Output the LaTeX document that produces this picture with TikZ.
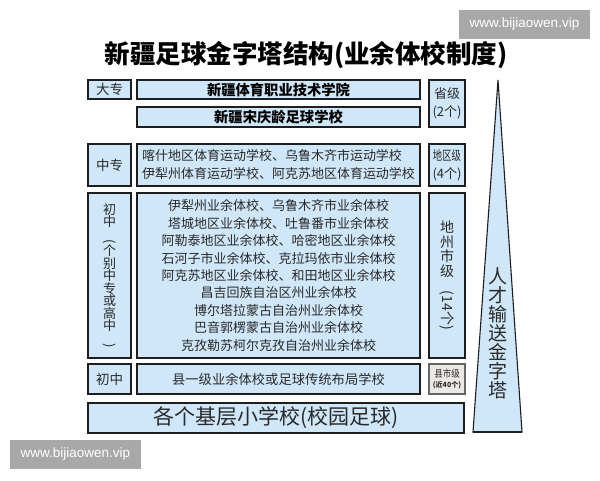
\documentclass[tikz,border=0pt]{standalone}
\usepackage{fontspec}
\usepackage{graphicx}
\setmainfont{Noto Sans CJK SC}
\newfontfamily\wmfont{Liberation Sans}
\definecolor{boxblue}{HTML}{CFE7F8}
\definecolor{boxline}{HTML}{1E1E1E}
\definecolor{txt}{HTML}{2A2A2A}
\definecolor{wmgray}{HTML}{A8A8A8}
\definecolor{xsfill}{HTML}{ECE9E4}
\begin{document}
\begin{tikzpicture}[x=1pt,y=-1pt,
  box/.style={draw=boxline, line width=1.6pt, fill=boxblue, inner sep=0pt,
    anchor=center, text=txt, align=center},
  wm/.style={fill=wmgray, text=white, inner sep=0pt, minimum width=131pt,
    minimum height=29pt, font=\wmfont\fontsize{13.5}{14}\selectfont}]
\useasboundingbox (0,0) rectangle (600,480);
\fill[white] (0,0) rectangle (600,480);

% title
\node[font=\fontsize{25.5}{28}\selectfont\bfseries, text=black] (title) at (306,55)
  {新疆足球金字塔结构(业余体校制度)};

% watermarks
\node[wm] (wm1) at (524.5,24.5) {www.bijiaowen.vip};
\node[wm] (wm2) at (75.5,454.5) {www.bijiaowen.vip};

% row 1: 大专
\node[box, minimum width=43pt, minimum height=19pt,
  font=\fontsize{13.5}{14}\selectfont] (dz) at (109.5,89.5) {大专};
\node[box, minimum width=283pt, minimum height=19pt, text=black,
  font=\fontsize{14.3}{15}\selectfont\bfseries] (xj1) at (278.5,89.5) {新疆体育职业技术学院};
\node[box, minimum width=283pt, minimum height=20pt, text=black,
  font=\fontsize{14.3}{15}\selectfont\bfseries] (xj2) at (278.5,117) {新疆宋庆龄足球学校};
\node[box, minimum width=36pt, minimum height=47pt,
  font=\fontsize{13}{18}\selectfont] (sj) at (447,103.5) {省级\\(2个)};

% row 2: 中专
\node[box, minimum width=43pt, minimum height=42pt,
  font=\fontsize{13.5}{14}\selectfont] (zz) at (109.5,165) {中专};
\node[box, minimum width=283pt, minimum height=42pt, align=left,
  font=\fontsize{13}{18}\selectfont] (zzc) at (278.5,165)
  {喀什地区体育运动学校、乌鲁木齐市运动学校\\伊犁州体育运动学校、阿克苏地区体育运动学校};
\node[box, minimum width=36pt, minimum height=42pt,
  font=\fontsize{13}{18}\selectfont] (dq) at (447,165)
  {\scalebox{0.72}[1]{地区级}\\(4个)};

% row 3: 初中 (个别中专或高中)
\node[box, minimum width=43pt, minimum height=165pt,
  font=\fontsize{13}{12.5}\selectfont] (cz) at (109.5,275.5)
  {初\\中\\\rotatebox{-90}{(}\\个\\别\\中\\专\\或\\高\\中\\\rotatebox{-90}{)}};
\node[box, minimum width=283pt, minimum height=165pt,
  font=\fontsize{13}{17.4}\selectfont] (czc) at (278.5,275.5)
  {伊犁州业余体校、乌鲁木齐市业余体校\\
   塔城地区业余体校、吐鲁番市业余体校\\
   阿勒泰地区业余体校、哈密地区业余体校\\
   石河子市业余体校、克拉玛依市业余体校\\
   阿克苏地区业余体校、和田地区业余体校\\
   昌吉回族自治区州业余体校\\
   博尔塔拉蒙古自治州业余体校\\
   巴音郭楞蒙古自治州业余体校\\
   克孜勒苏柯尔克孜自治州业余体校};
\node[box, minimum width=36pt, minimum height=165pt,
  font=\fontsize{14}{14.5}\selectfont] (dz14) at (447,275.5)
  {地\\州\\市\\级\\\rotatebox{-90}{(14个)}};

% row 4: 初中
\node[box, minimum width=43pt, minimum height=30pt,
  font=\fontsize{13.5}{14}\selectfont] (cz2) at (109.5,379) {初中};
\node[box, minimum width=283pt, minimum height=30pt,
  font=\fontsize{13.3}{14}\selectfont] (xy) at (278.5,379) {县一级业余体校或足球传统布局学校};
\node[box, draw=black!60, line width=1.2pt, fill=xsfill, minimum width=36pt, minimum height=30pt,
  font=\fontsize{10}{11}\selectfont] (xs) at (447,379)
  {\scalebox{0.85}[1]{县市级}\\[-1pt]{\fontsize{7}{8}\selectfont\bfseries(近40个)}};

% base
\node[box, minimum width=376pt, minimum height=30pt,
  font=\fontsize{21}{22}\selectfont] (base) at (276,418) {各个基层小学校(校园足球)};

% pyramid
\coordinate (pt) at (498,80);
\coordinate (pl) at (473,432);
\coordinate (pr) at (522,432);
\filldraw[fill=boxblue, draw=boxline, line width=1.1pt, line join=miter] (pt) -- (pl) -- (pr) -- cycle;
\draw[boxline, line width=2pt] (pl) -- (pr);
\node[align=center, text=txt, inner sep=0pt, font=\fontsize{19}{19}\selectfont] (pyrtxt) at (498,333)
  {人\\才\\输\\送\\金\\字\\塔};
\end{tikzpicture}
\end{document}
